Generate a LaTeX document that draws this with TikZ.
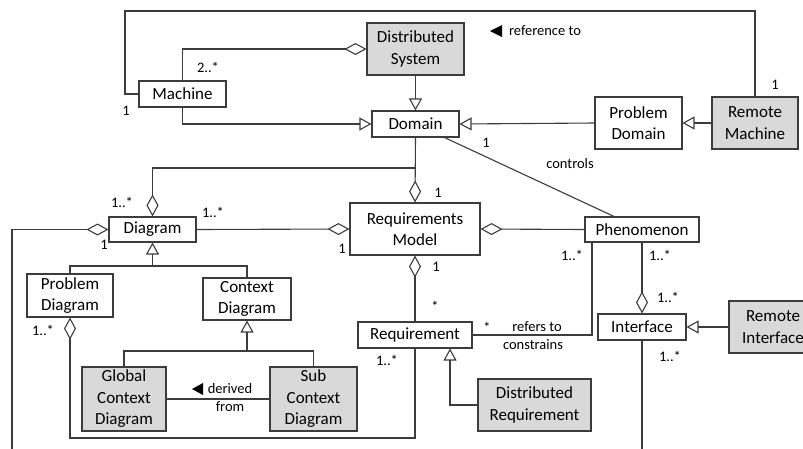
\documentclass[tikz,border=0pt]{standalone}
\usepackage{fontspec}
\setmainfont{Carlito}
\usetikzlibrary{arrows.meta}
\definecolor{linec}{HTML}{3C3C3C}
\definecolor{boxgray}{HTML}{D9D9D9}
\newcommand\clsfont{\fontsize{17}{21.5}\selectfont}
\newcommand\lblfont{\fontsize{14.5}{17}\selectfont}
\begin{document}
\begin{tikzpicture}[x=1pt,y=-1pt,
  cls/.style={draw=linec, line width=1.1pt, fill=white, align=center, inner sep=0pt, font=\clsfont},
  gcls/.style={cls, fill=boxgray},
  conn/.style={draw=linec, line width=1.1pt},
  gen/.style={conn, -{Triangle[open,length=12pt,width=13pt]}},
  aggS/.style={conn, {Diamond[open,length=22pt,width=12pt]}-},
  aggE/.style={conn, -{Diamond[open,length=22pt,width=12pt]}},
  lbl/.style={font=\lblfont, inner sep=0pt, text=black},
  dirmark/.style={fill=black, draw=none}]
\useasboundingbox (0,0) rectangle (803,448);
\clip (0,0) rectangle (803,448);

% classes
\node[cls,  minimum width=87pt,  minimum height=26pt] (machine)   at (182.5,94)  {Machine};
\node[gcls, minimum width=97pt,  minimum height=52pt] (distsys)   at (415.5,49)  {Distributed\\System};
\node[cls,  minimum width=87pt,  minimum height=26pt] (domain)    at (415.5,124) {Domain};
\node[cls,  minimum width=87pt,  minimum height=52pt] (probdom)   at (638.5,123) {Problem\\Domain};
\node[gcls, minimum width=86pt,  minimum height=52pt] (remmach)   at (755,123)   {Remote\\Machine};
\node[cls,  minimum width=87pt,  minimum height=25pt] (diagram)   at (152.5,229.5) {Diagram};
\node[cls,  minimum width=130pt, minimum height=52pt] (reqmodel)  at (415,229)   {Requirements\\Model};
\node[cls,  minimum width=114pt, minimum height=25pt] (phenom)    at (642,229.5) {Phenomenon};
\node[cls,  minimum width=86pt,  minimum height=43pt] (probdiag)  at (70,295.5)  {Problem\\Diagram};
\node[cls,  minimum width=88pt,  minimum height=42pt] (ctxdiag)   at (247,299)   {Context\\Diagram};
\node[gcls, minimum width=84pt,  minimum height=64pt] (global)    at (124,399)   {Global\\Context\\Diagram};
\node[gcls, minimum width=87pt,  minimum height=64pt] (sub)       at (313.5,399) {Sub\\Context\\Diagram};
\node[cls,  minimum width=114pt, minimum height=26pt] (req)       at (415,335)   {Requirement};
\node[gcls, minimum width=113pt, minimum height=52pt] (distreq)   at (534.5,405) {Distributed\\Requirement};
\node[cls,  minimum width=88pt,  minimum height=26pt] (interface) at (642,327)   {Interface};
\node[gcls, minimum width=88pt,  minimum height=52pt, text width=88pt] (remint) at (773,327) {Remote\\Interface};

% routing points
\coordinate (tl) at (125,11);
\coordinate (jdom) at (415.5,168);
\coordinate (jdia) at (152.5,266);
\coordinate (jctx) at (247,351);
\coordinate (botleft) at (12,470);
\coordinate (reqcorner) at (415,438);
\coordinate (intbot) at (642,470);

% reference loop between Machine and Remote Machine
\draw[conn] (machine.west) -| (tl) -| (remmach.north);
% Distributed System aggregates machines
\draw[aggS] (distsys.west) -| (machine.north);
% generalisations towards Domain
\draw[gen] (machine.south) |- (domain.west);
\draw[gen] (distsys.south) -- (domain.north);
\draw[gen] (probdom.west) -- (domain.east);
\draw[gen] (remmach.west) -- (probdom.east);
% Requirements Model aggregates Domain and Diagram
\draw[aggE] (domain.south) -- (reqmodel.north);
\draw[aggE] (jdom) -| (diagram.north);
% Domain controls Phenomenon
\draw[conn] (domain) -- (phenom);
% Diagram associations
\draw[aggE] (diagram.east) -- (reqmodel.west);
\draw[aggS] (diagram.west) -| (botleft);
% Diagram specialisations
\draw[gen] (jdia) -- (diagram.south);
\draw[conn] (probdiag.north) |- (jdia) -| (ctxdiag.north);
\draw[gen] (jctx) -- (ctxdiag.south);
\draw[conn] (global.north) |- (jctx) -| (sub.north);
\draw[conn] (global.east) -- (sub.west);
% Problem Diagram aggregates Requirement
\draw[aggS] (probdiag.south) |- (reqcorner) -- (req.south);
% Requirements Model parts
\draw[aggS] (reqmodel.south) -- (req.north);
\draw[aggS] (reqmodel.east) -- (phenom.west);
% Requirement refers to Phenomenon
\draw[conn] (req.east) -| ([xshift=-50pt]phenom.south);
\draw[gen] (distreq.west) -| ([xshift=35pt]req.south);
% Interface
\draw[aggE] (phenom.south) -- (interface.north);
\draw[gen] (remint.west) -- (interface.east);
\draw[conn] (interface.south) -- (intbot);

% multiplicities and role labels
\node[lbl] (m1)  at (208,67)  {2..*};
\node[lbl] (m2)  at (126,111) {1};
\node[lbl] (m3)  at (775,85)  {1};
\node[lbl] (m4)  at (486,143) {1};
\node[lbl] (m5)  at (438,193) {1};
\node[lbl] (m6)  at (122,202) {1..*};
\node[lbl] (m7)  at (213,212) {1..*};
\node[lbl] (m8)  at (104,245) {1};
\node[lbl] (m9)  at (342,249) {1};
\node[lbl] (m10) at (436,267) {1};
\node[lbl] (m11) at (435,306) {*};
\node[lbl] (m12) at (43,330)  {1..*};
\node[lbl] (m13) at (387,360) {1..*};
\node[lbl] (m14) at (487,327) {*};
\node[lbl] (m15) at (572,255) {1..*};
\node[lbl] (m16) at (660,255) {1..*};
\node[lbl] (m17) at (668,297) {1..*};
\node[lbl] (m18) at (670,356) {1..*};
\node[lbl] (ctl) at (570,164) {controls};
\node[lbl] (refto) at (537,327) {refers to};
\node[lbl] (constr) at (533,345) {constrains};
\node[lbl] (reflbl) at (545,31) {reference to};
\node[lbl] (derv) at (230,389) {derived};
\node[lbl] (drfrom) at (230,407) {from};

% reading-direction marks
\fill[dirmark] (490,31) -- (502,25) -- (502,37) -- cycle;
\fill[dirmark] (192,389) -- (203,383) -- (203,395) -- cycle;
\end{tikzpicture}
\end{document}
